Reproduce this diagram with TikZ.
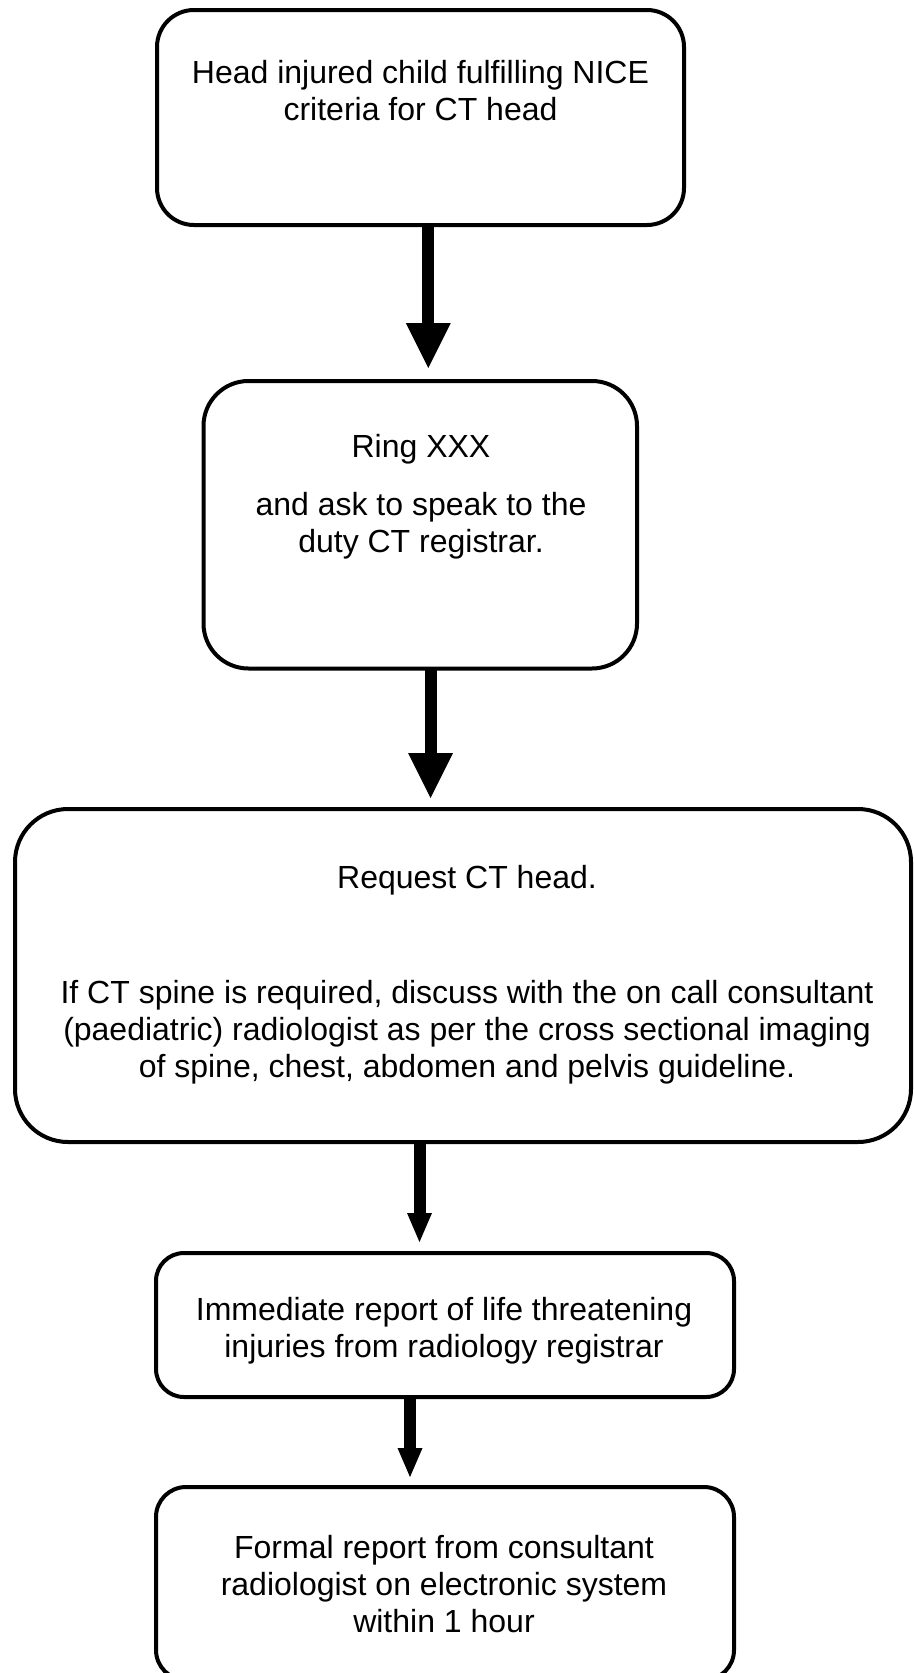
\documentclass[tikz,border=0pt]{standalone}
\usepackage{fontspec}
\setmainfont{Liberation Sans}
\usetikzlibrary{calc}
\tikzset{
  box/.style={draw, line width=4pt, fill=white, inner sep=0pt, outer sep=0pt},
  lbl/.style={font=\fontsize{32}{37}\selectfont, align=center, anchor=base, inner sep=0pt},
  shaft/.style={line width=12pt},
  head/.style={fill=black}
}
\begin{document}
\begin{tikzpicture}[x=1pt,y=-1pt]
\useasboundingbox (0,0) rectangle (913,1673);
\clip (0,0) rectangle (913,1673);
% boxes
\node[box, rounded corners=37pt, minimum width=527pt, minimum height=215pt] (b1) at (420.5,117.5) {};
\node[box, rounded corners=45pt, minimum width=433.5pt, minimum height=287.5pt] (b2) at (420.25,524.75) {};
\node[box, rounded corners=53pt, minimum width=896pt, minimum height=333pt] (b3) at (463,975.5) {};
\node[box, rounded corners=28pt, minimum width=578pt, minimum height=144pt] (b4) at (445,1325) {};
\node[box, rounded corners=30pt, minimum width=578pt, minimum height=193pt] (b5) at (445,1583.5) {};
% texts (base anchor = baseline of the last line)
\node[lbl] (t1) at (420.5,120) {Head injured child fulfilling NICE\\criteria for CT head};
\node[lbl] (t2a) at (421,457) {Ring XXX};
\node[lbl] (t2b) at (421,552) {and ask to speak to the\\duty CT registrar.};
\node[lbl] (t3a) at (467,888) {Request CT head.};
\node[lbl] (t3b) at (467,1077) {If CT spine is required, discuss with the on call consultant\\(paediatric) radiologist as per the cross sectional imaging\\of spine, chest, abdomen and pelvis guideline.};
\node[lbl] (t4) at (444,1357) {Immediate report of life threatening\\injuries from radiology registrar};
\node[lbl] (t5) at (444,1632) {Formal report from consultant\\radiologist on electronic system\\within 1 hour};
% arrows
\coordinate (a1) at ($(b2.north)+(8,-13)$);
\draw[shaft] (b1.south -| a1) -- ($(a1)+(0,-44)$);
\fill[head] (a1) -- ++(-22.5,-45) -- ++(45,0) -- cycle;
\coordinate (a2) at ($(b2.south |- b3.north)+(10.25,-11)$);
\draw[shaft] (b2.south -| a2) -- ($(a2)+(0,-44)$);
\fill[head] (a2) -- ++(-22.5,-45) -- ++(45,0) -- cycle;
\coordinate (a3) at ($(b4.north)+(-25.5,-11)$);
\draw[shaft] (b3.south -| a3) -- ($(a3)+(0,-28)$);
\fill[head] (a3) -- ++(-12.5,-29) -- ++(25,0) -- cycle;
\coordinate (a4) at ($(b5.north)+(-35,-10)$);
\draw[shaft] (b4.south -| a4) -- ($(a4)+(0,-28)$);
\fill[head] (a4) -- ++(-12.5,-29) -- ++(25,0) -- cycle;
\end{tikzpicture}
\end{document}
